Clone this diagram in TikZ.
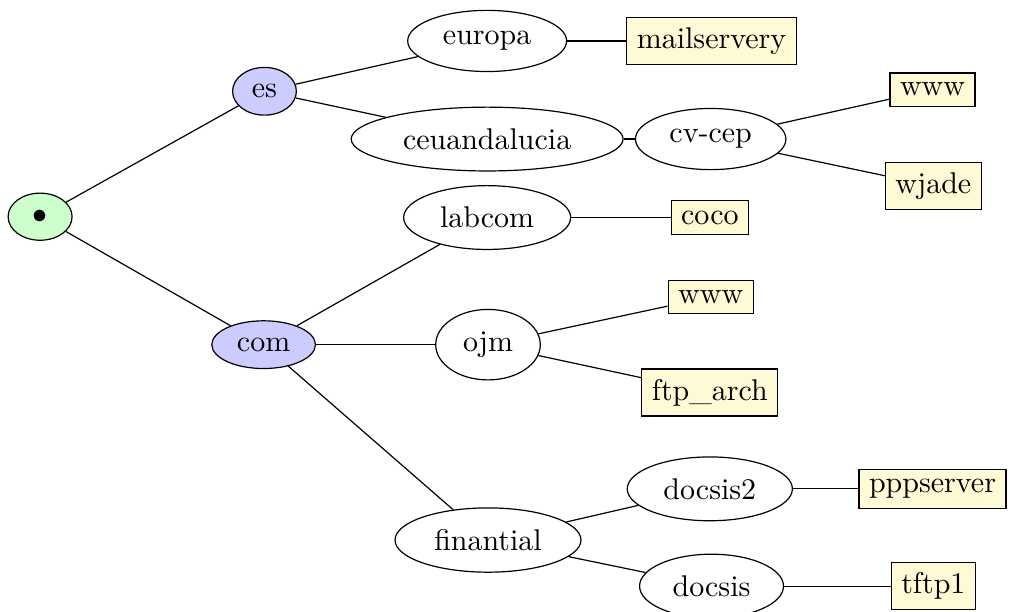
\documentclass[tikz,border=0pt]{standalone}
\usepackage{amsmath}
\usepackage{tikz}
\usetikzlibrary{shapes.geometric}

\definecolor{rootgreen}{RGB}{204,255,204}
\definecolor{tldblue}{RGB}{204,204,255}
\definecolor{hostyellow}{RGB}{255,250,214}

\begin{document}
\begin{tikzpicture}
  \tikzstyle{rootnode} = [draw, ellipse, fill=rootgreen, minimum width=0.75cm, minimum height=0.53cm]
  \tikzstyle{tldnode} = [draw, ellipse, fill=tldblue]
  \tikzstyle{zonenode} = [draw, ellipse, inner sep=0.4em]
  \tikzstyle{hostbox} = [draw, rectangle, fill=hostyellow]
  \tikzstyle{link} = [black];

  \useasboundingbox (0,0) rectangle (11.85,-7.17);

  \node[rootnode] (dot)     at (0.47,-2.54)  {$\bullet$};
  \node[tldnode]  (es)      at (3.10,-1.07)  {es};
  \node[tldnode]  (com)     at (3.09,-4.04)  {com};

  \node[zonenode] (europa)  at (5.71,-0.48)  {europa};
  \node[zonenode] (ceu)     at (5.71,-1.63)  {ceuandalucia};
  \node[zonenode] (labcom)  at (5.71,-2.55)  {labcom};
  \node[zonenode] (ojm)     at (5.72,-4.04)  {ojm};
  \node[zonenode] (fin)     at (5.72,-6.33)  {finantial};

  \node[zonenode] (cvcep)   at (8.33,-1.63)  {cv-cep};
  \node[zonenode] (docsisB) at (8.32,-5.73)  {docsis2};
  \node[zonenode] (docsis)  at (8.34,-6.87)  {docsis};

  \node[hostbox]  (mail)    at (8.34,-0.48)  {mailservery};
  \node[hostbox]  (coco)    at (8.32,-2.55)  {coco};
  \node[hostbox]  (wwwB)    at (8.33,-3.48)  {www};
  \node[hostbox]  (ftp)     at (8.32,-4.60)  {ftp\_arch};

  \node[hostbox]  (wwwA)    at (10.93,-1.05) {www};
  \node[hostbox]  (wjade)   at (10.94,-2.18) {wjade};
  \node[hostbox]  (ppp)     at (10.93,-5.73) {pppserver};
  \node[hostbox]  (tftp)    at (10.94,-6.87) {tftp1};

  \path (dot) edge[link] (es)
        (dot) edge[link] (com)
        (es) edge[link] (europa)
        (es) edge[link] (ceu)
        (europa) edge[link] (mail)
        (ceu) edge[link] (cvcep)
        (cvcep) edge[link] (wwwA)
        (cvcep) edge[link] (wjade)
        (com) edge[link] (labcom)
        (com) edge[link] (ojm)
        (com) edge[link] (fin)
        (labcom) edge[link] (coco)
        (ojm) edge[link] (wwwB)
        (ojm) edge[link] (ftp)
        (fin) edge[link] (docsisB)
        (fin) edge[link] (docsis)
        (docsisB) edge[link] (ppp)
        (docsis) edge[link] (tftp);
\end{tikzpicture}
\end{document}
